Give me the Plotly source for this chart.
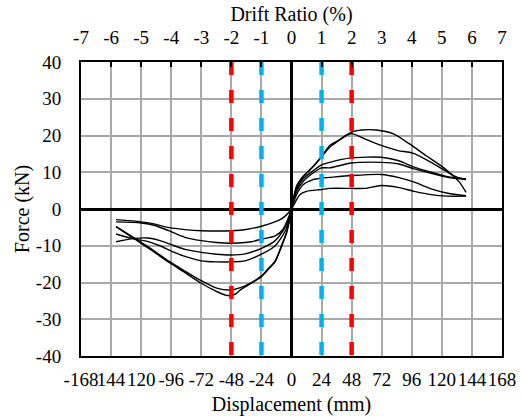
import plotly.graph_objects as go

# ---- data ----
disp_ticks = [-168, -144, -120, -96, -72, -48, -24, 0, 24, 48, 72, 96, 120, 144, 168]
disp_ticktext = ["-168", "144", "120", "-96", "-72", "-48", "-24", "0", "24", "48", "72", "96", "120", "144", "168"]
drift_ticks = [-7, -6, -5, -4, -3, -2, -1, 0, 1, 2, 3, 4, 5, 6, 7]
drift_ticktext = ["-7", "-6", "-5", "-4", "-3", "-2", "-1", "0", "1", "2", "3", "4", "5", "6", "7"]
force_ticks = [-40, -30, -20, -10, 0, 10, 20, 30, 40]
force_ticktext = ["-40", "-30", "-20", "-10", "0", "10", "20", "30", "40"]

# reference drift lines (%)
red_drifts = [-2, 2]
blue_drifts = [-1, 1]

# backbone curves: displacement (mm), force (kN)
a_x = [-140, -125, -110, -98, -85, -72, -60, -52, -45, -40, -29, -24, -19, -13, -8, -4, -1.5, 0,
       4, 9.3, 17.2, 24, 30.5, 36, 47.8, 55.7, 67.7, 81, 94.2, 107.5, 120.8, 134, 139.3]
a_y = [-4.8, -8.2, -11.6, -14.5, -17.3, -20.2, -22.4, -23.5, -23.2, -21.8, -19.5, -18.2, -16.4, -14.1, -10.0, -6.4, -2.7, 0,
       6.2, 8.9, 11.6, 14.3, 17.3, 18.4, 20.9, 21.5, 21.5, 20.5, 17.7, 14.5, 11.4, 7.3, 4.5]

b_x = [-140, -125, -110, -98, -85, -72, -59, -48, -37, -27, -24, -19, -13, -8, -4, -1.5, 0,
       4, 9.3, 17.2, 24, 30.5, 36, 47.8, 58.4, 71.7, 85, 96.8, 111.4, 124.7, 132.7, 139.3]
b_y = [-4.8, -8.0, -11.3, -14.2, -16.9, -19.5, -21.6, -22.0, -20.9, -19.1, -18.4, -16.6, -14.3, -10.2, -6.6, -2.8, 0,
       6.0, 8.7, 11.5, 14.2, 16.8, 18.2, 20.5, 19.1, 17.3, 15.9, 15.2, 12.7, 10.0, 8.6, 8.0]

c_x = [-140, -125, -115, -105, -95, -85, -72, -60, -48, -37, -24, -13, -5, -1.5, 0,
       4, 9.3, 17.2, 24, 30.5, 47.8, 71.7, 85, 98, 111.4, 124.7, 139.3]
c_y = [-6.8, -8.2, -8.8, -10.0, -11.6, -12.9, -14.1, -14.4, -14.4, -14.1, -12.3, -10.0, -6.0, -2.5, 0,
       5.3, 8.2, 10.4, 12.0, 12.7, 13.9, 14.1, 13.2, 11.4, 10.0, 8.8, 8.2]

d_x = [-140, -125, -115, -105, -95, -85, -72, -60, -48, -37, -24, -13, -6, -2, 0,
       4, 9.3, 17.2, 24, 30.5, 47.8, 71.7, 85, 98, 111.4, 124.7, 139.3]
d_y = [-8.9, -8.0, -7.9, -8.6, -9.8, -11.0, -11.8, -12.3, -12.5, -12.2, -10.7, -8.6, -5.5, -2.5, 0,
       4.8, 7.5, 9.8, 11.2, 11.2, 12.5, 12.7, 12.3, 10.9, 9.7, 8.6, 8.0]

e_x = [-140, -120, -109, -98, -85, -72, -60, -48, -32, -24, -13, -6.7, -2, 0,
       4, 9.3, 17.2, 24, 30.5, 47.8, 71.7, 85, 98, 111.4, 124.7, 139.3]
e_y = [-3.5, -3.8, -4.5, -5.9, -7.7, -8.6, -9.1, -9.3, -8.9, -8.2, -7.3, -5.5, -2.0, 0,
       3.9, 6.6, 8.0, 8.4, 8.6, 9.1, 9.4, 8.6, 7.3, 5.5, 4.3, 3.6]

f_x = [-140, -120, -109, -99, -85, -72, -48, -35, -24, -8, 0,
       4, 6.6, 11.9, 24, 30.5, 47.8, 58.4, 71.7, 85, 98, 111.4, 124.7, 139.3]
f_y = [-2.9, -3.5, -4.1, -5.0, -5.6, -5.9, -5.9, -5.5, -4.7, -2.7, 0,
       2.5, 3.9, 4.8, 5.3, 5.6, 5.6, 5.6, 6.4, 5.9, 4.8, 3.9, 3.5, 3.5]

curves = [(a_x, a_y), (b_x, b_y), (c_x, c_y), (d_x, d_y), (e_x, e_y), (f_x, f_y)]

FONT = "Liberation Serif"
GRID = "#a9a9a9"
TICKFONT = dict(family=FONT, size=19, color="black")
TITLEFONT = dict(family=FONT, size=20, color="black")
DASH = "13px,15px"

fig = go.Figure()

for xs, ys in curves:
    fig.add_trace(go.Scatter(x=xs, y=ys, mode="lines",
                             line=dict(color="black", width=1.4, shape="spline", smoothing=0.7),
                             showlegend=False, hoverinfo="skip"))

for vals, col in [(red_drifts, "#ff0000"), (blue_drifts, "#00b0f0")]:
    for d in vals:
        fig.add_trace(go.Scatter(x=[d, d], y=[force_ticks[-1], force_ticks[0]], mode="lines",
                                 xaxis="x2",
                                 line=dict(color=col, width=4.5, dash=DASH),
                                 showlegend=False, hoverinfo="skip"))

fig.update_layout(
    width=523, height=420,
    margin=dict(l=81, r=21, t=62, b=64, autoexpand=False),
    paper_bgcolor="white", plot_bgcolor="white",
    font=dict(family=FONT, size=19, color="black"),
    xaxis=dict(range=[-168, 168], tickmode="array", tickvals=disp_ticks, ticktext=disp_ticktext,
               tickangle=0, tickfont=TICKFONT, automargin=False,
               showgrid=True, gridcolor=GRID, gridwidth=1.5,
               zeroline=True, zerolinecolor="black", zerolinewidth=2.6,
               showline=True, linecolor="black", linewidth=2, mirror=False,
               ticks="", ticklabelstandoff=5,
               title=dict(text="Displacement (mm)", font=TITLEFONT, standoff=8)),
    xaxis2=dict(range=[-7, 7], overlaying="x", side="top", anchor="y",
                tickmode="array", tickvals=drift_ticks, ticktext=drift_ticktext, tickangle=0,
                tickfont=TICKFONT, automargin=False,
                showgrid=False, zeroline=False,
                showline=True, linecolor="black", linewidth=2,
                ticks="inside", ticklen=5, tickwidth=1.5, tickcolor="black",
                ticklabelstandoff=8,
                title=dict(text="Drift Ratio (%)", font=TITLEFONT, standoff=0)),
    yaxis=dict(range=[-40, 40], tickmode="array", tickvals=force_ticks, ticktext=force_ticktext,
               tickfont=TICKFONT, automargin=False,
               showgrid=True, gridcolor=GRID, gridwidth=1.5,
               zeroline=True, zerolinecolor="black", zerolinewidth=2.6,
               showline=True, linecolor="black", linewidth=2, mirror=True,
               ticks="", ticklabelstandoff=14,
               title=dict(text="Force (kN)", font=TITLEFONT, standoff=1)),
)

fig.write_html("out.html")
